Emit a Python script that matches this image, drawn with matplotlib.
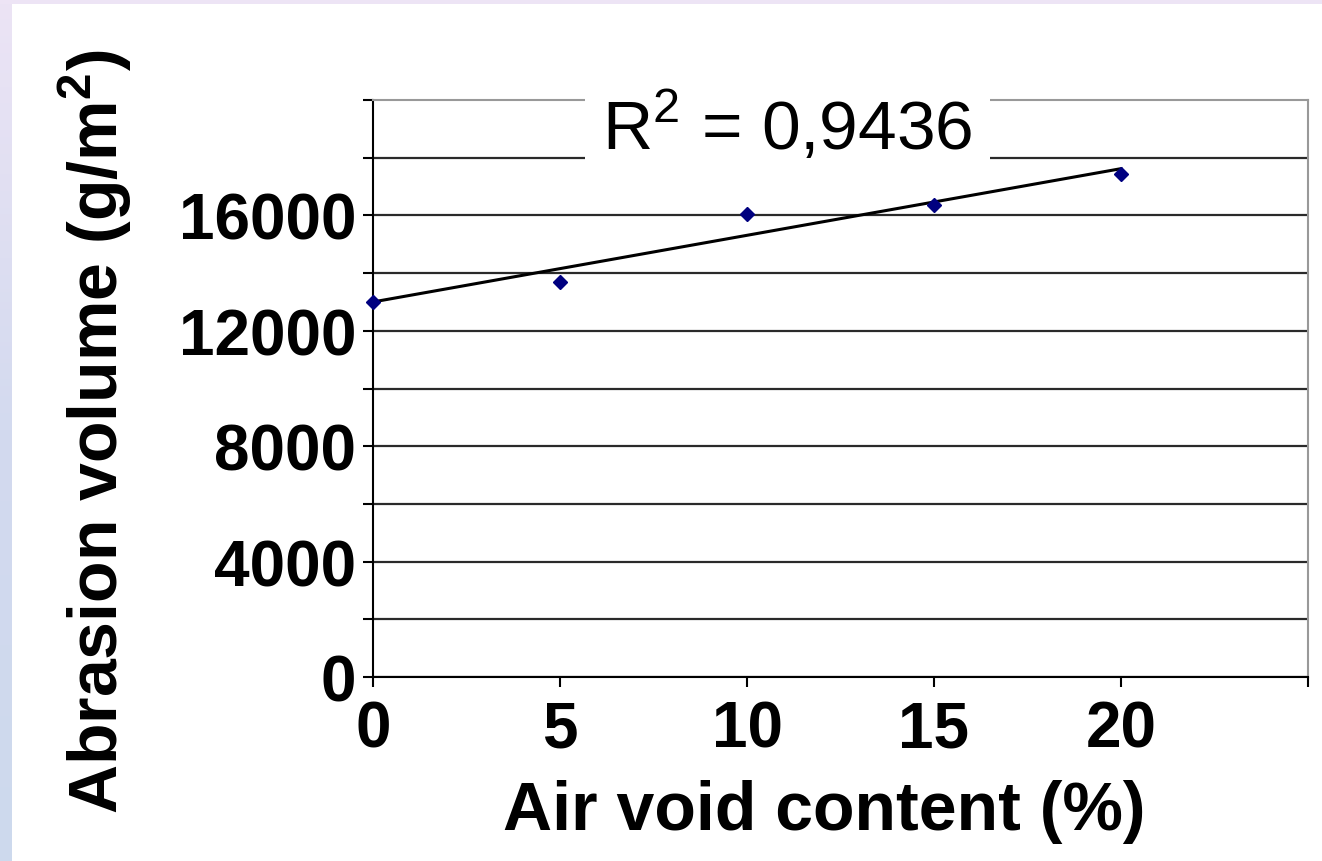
import matplotlib.pyplot as plt
import numpy as np
from matplotlib.colors import LinearSegmentedColormap

plt.rcParams['font.family'] = ['Liberation Sans', 'DejaVu Sans']
plt.rcParams['mathtext.fontset'] = 'custom'
plt.rcParams['mathtext.rm'] = 'Liberation Sans'
plt.rcParams['mathtext.bf'] = 'Liberation Sans:bold'

# data
air_void = [0, 5, 10, 15, 20]
abrasion = [13000, 13700, 16050, 16350, 17450]
x_ticks = [0, 5, 10, 15, 20, 25]
x_labels = ['0', '5', '10', '15', '20', '']
y_ticks = list(range(0, 20001, 2000))
y_labels = [str(v) if v % 4000 == 0 and v < 20000 else '' for v in y_ticks]

W, H = 1322, 862
fig = plt.figure(figsize=(W / 100, H / 100), dpi=100)
fig.patch.set_facecolor('white')

# slide-like gradient edges
left = fig.add_axes([0, 0, 12 / W, 1])
grad = np.linspace(0, 1, 256).reshape(-1, 1)
cm = LinearSegmentedColormap.from_list('edge', ['#ece4f5', '#d3daef', '#cdd9ed'])
left.imshow(grad, aspect='auto', cmap=cm, extent=[0, 1, 0, 1])
left.axis('off')
top = fig.add_axes([0, 1 - 5 / H, 1, 5 / H])
top.set_facecolor('#ede4f5')
top.set_xticks([])
top.set_yticks([])
for s in top.spines.values():
    s.set_visible(False)

ax = fig.add_axes([373 / W, 1 - 678 / H, (1308 - 373) / W, (678 - 101) / H])

# linear trend line
slope, intercept = np.polyfit(air_void, abrasion, 1)
fit_x = np.array([air_void[0], air_void[-1]])
ax.plot(fit_x, slope * fit_x + intercept, color='black', lw=2.2, zorder=3)
ax.plot(air_void, abrasion, linestyle='none', marker='D', ms=7,
        color='#000080', zorder=4, clip_on=False)

ax.set_xlim(0, 25)
ax.set_ylim(0, 20000)
ax.set_xticks(x_ticks)
ax.set_xticklabels(x_labels)
ax.set_yticks(y_ticks)
ax.set_yticklabels(y_labels)
ax.tick_params(axis='both', labelsize=46, direction='out', length=7,
               width=1.5, color='black')
ax.tick_params(axis='y', pad=5)
ax.tick_params(axis='x', pad=9)
for lab in ax.get_xticklabels() + ax.get_yticklabels():
    lab.set_fontweight('bold')

ax.grid(axis='y', color='#2a2a2a', lw=1.6)
ax.set_axisbelow(True)
ax.yaxis.get_gridlines()[-1].set_visible(False)

ax.spines['left'].set_color('black')
ax.spines['bottom'].set_color('black')
ax.spines['top'].set_color('#999999')
ax.spines['right'].set_color('#999999')
for s in ax.spines.values():
    s.set_linewidth(1.5)

fit_y = slope * np.array(air_void) + intercept
r2 = 1 - np.sum((np.array(abrasion) - fit_y) ** 2) / np.sum(
    (np.array(abrasion) - np.mean(abrasion)) ** 2)
ax.text(0.245, 0.955, 'R$^{2}$ = ' + f'{r2:.4f}'.replace('.', ','),
        transform=ax.transAxes, ha='left', va='center', fontsize=50,
        zorder=6, clip_on=False,
        bbox=dict(boxstyle='square,pad=0.25', fc='white', ec='none'))

fig.text(95 / W, 1 - 432 / H, 'Abrasion volume (g/m$^\\mathbf{2}$)',
         rotation=90, ha='center', va='center', fontsize=49,
         fontweight='bold')
fig.text(824 / W, 1 - 812 / H, 'Air void content (%)', ha='center',
         va='center', fontsize=49, fontweight='bold')

fig.savefig('out.png', dpi=100)
